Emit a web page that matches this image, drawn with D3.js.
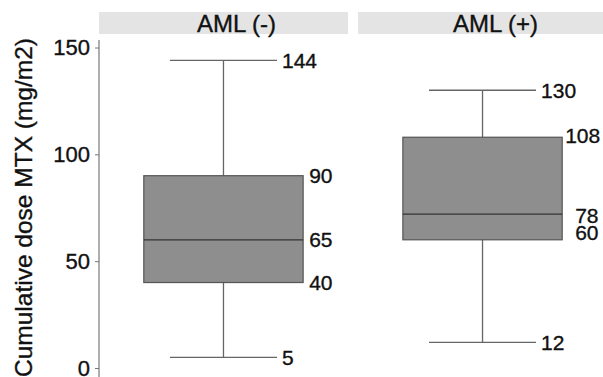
<!DOCTYPE html>
<html>
<head>
<meta charset="utf-8">
<script src="https://cdn.jsdelivr.net/npm/d3@7"></script>
<style>
  body { margin: 0; background: #fff; }
  svg { display: block; font-family: "Liberation Sans", Arial, sans-serif; }
  text { stroke: #111; stroke-width: 0.35px; }
</style>
</head>
<body>
<svg id="chart" width="603" height="377"></svg>
<script>
// box plot stats
const groups = ["AML (-)", "AML (+)"];
const whiskerLow = [5, 12];
const q1 = [40, 60];
const median = [60, 72];
const q3 = [90, 108];
const whiskerHigh = [144, 130];
// printed median labels (differ from drawn line in the original)
const medianLabels = [65, 78];
const yTicks = [0, 50, 100, 150];

const width = 603;
const height = 377;

const svg = d3.select("#chart");

const x = d3.scaleBand()
  .domain(groups)
  .range([99, 607])
  .paddingInner(0.039);

const y = d3.scaleLinear()
  .domain([0, 150])
  .range([368, 47.5]);

const boxW = x.bandwidth() * 0.64;
const capW = x.bandwidth() * 0.43;

// facet strips
const strip = svg.append("g")
  .selectAll("g")
  .data(groups)
  .join("g");

strip.append("rect")
  .attr("x", d => x(d))
  .attr("y", 12)
  .attr("width", x.bandwidth())
  .attr("height", 22)
  .attr("fill", "#e4e4e4");

strip.append("text")
  .attr("x", d => x(d) + x.bandwidth() / 2 + 13)
  .attr("y", 32)
  .attr("text-anchor", "middle")
  .attr("font-size", 24)
  .attr("fill", "#111")
  .text(d => d);

// y axis
const yAxis = svg.append("g")
  .attr("transform", "translate(99,0)")
  .call(d3.axisLeft(y).tickValues(yTicks).tickSize(4).tickPadding(5));
yAxis.select(".domain").remove();
yAxis.selectAll(".tick line").attr("stroke", "#777");
yAxis.selectAll(".tick text")
  .attr("font-size", 22)
  .attr("fill", "#111")
  .attr("font-family", "Liberation Sans, Arial, sans-serif");

svg.append("line")
  .attr("x1", 99).attr("x2", 99)
  .attr("y1", 40).attr("y2", height)
  .attr("stroke", "#777")
  .attr("stroke-width", 1.2);

svg.append("text")
  .attr("transform", "translate(32,38) rotate(-90)")
  .attr("text-anchor", "end")
  .attr("font-size", 24.5)
  .attr("fill", "#111")
  .text("Cumulative dose MTX (mg/m2)");

// boxes
const box = svg.append("g")
  .selectAll("g")
  .data(groups.map((g, i) => ({
    g, i,
    lo: whiskerLow[i], q1: q1[i], med: median[i], q3: q3[i], hi: whiskerHigh[i],
    medLabel: medianLabels[i]
  })))
  .join("g");

const cx = d => x(d.g) + x.bandwidth() / 2;

box.append("line")
  .attr("x1", cx).attr("x2", cx)
  .attr("y1", d => y(d.hi)).attr("y2", d => y(d.lo))
  .attr("stroke", "#666")
  .attr("stroke-width", 1.3);

// caps
box.selectAll(".cap")
  .data(d => [d.lo, d.hi].map(v => ({ d, v })))
  .join("line")
  .attr("class", "cap")
  .attr("x1", p => cx(p.d) - capW / 2)
  .attr("x2", p => cx(p.d) + capW / 2)
  .attr("y1", p => y(p.v))
  .attr("y2", p => y(p.v))
  .attr("stroke", "#666")
  .attr("stroke-width", 1.3);

box.append("rect")
  .attr("x", d => cx(d) - boxW / 2)
  .attr("y", d => y(d.q3))
  .attr("width", boxW)
  .attr("height", d => y(d.q1) - y(d.q3))
  .attr("fill", "#8e8e8e")
  .attr("stroke", "#555")
  .attr("stroke-width", 1.2);

box.append("line")
  .attr("x1", d => cx(d) - boxW / 2)
  .attr("x2", d => cx(d) + boxW / 2)
  .attr("y1", d => y(d.med))
  .attr("y2", d => y(d.med))
  .attr("stroke", "#333")
  .attr("stroke-width", 1.2);

// value labels
box.selectAll(".lab")
  .data(d => {
    const right = cx(d) + boxW / 2;
    const cap = cx(d) + capW / 2;
    const plus = d.i === 1;
    return [
      { v: d.hi, t: d.hi, x: cap + 5, dy: 0 },
      { v: d.q3, t: d.q3, x: right + (plus ? 3 : 6), dy: plus ? -2 : 0 },
      { v: d.med, t: d.medLabel, x: right + (plus ? 13 : 6), dy: plus ? 1 : 0 },
      { v: d.q1, t: d.q1, x: right + (plus ? 13 : 6), dy: plus ? -7 : 0 },
      { v: d.lo, t: d.lo, x: cap + 5, dy: 0 }
    ];
  })
  .join("text")
  .attr("class", "lab")
  .attr("x", p => p.x)
  .attr("y", p => y(p.v) + p.dy)
  .attr("dy", "0.36em")
  .attr("font-size", 21)
  .attr("fill", "#111")
  .text(p => p.t);
</script>
</body>
</html>
